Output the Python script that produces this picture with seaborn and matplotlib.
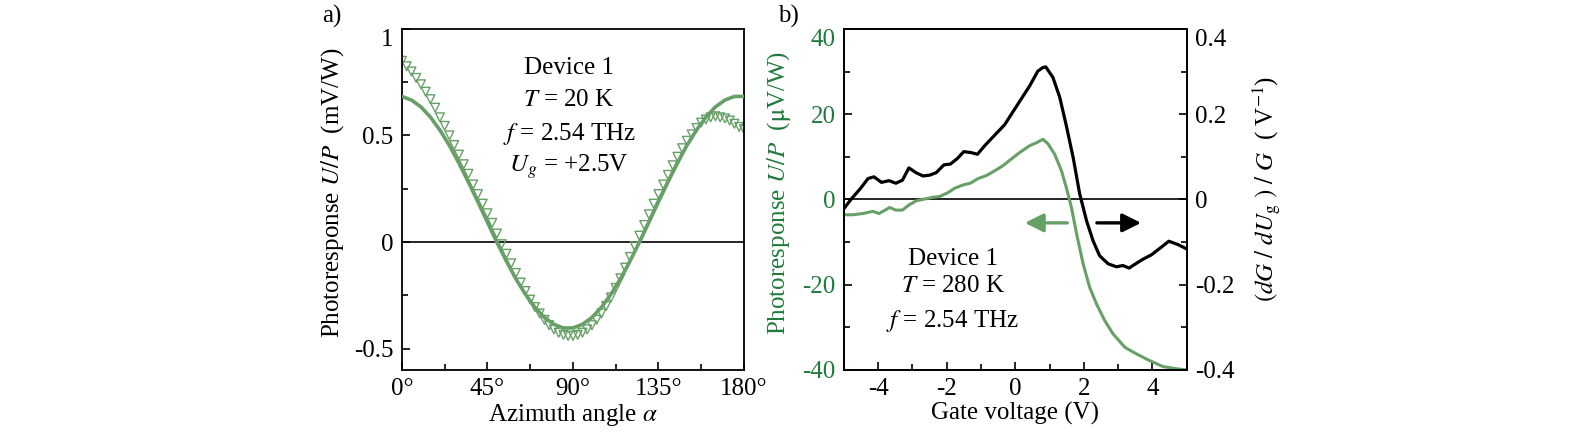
import numpy as np
import pandas as pd
import seaborn as sns
import matplotlib.pyplot as plt
from matplotlib.ticker import MultipleLocator

# panel a: azimuth dependence (fit line + measured triangles)
fit_angle = [0, 5, 10, 15, 20, 25, 30, 35, 40, 45, 50, 55, 60, 65, 70, 75, 80, 85, 90,
             95, 100, 105, 110, 115, 120, 125, 130, 135, 140, 145, 150, 155, 160, 165, 170, 175, 180]
fit_resp = [0.683, 0.666, 0.634, 0.586, 0.525, 0.453, 0.370, 0.281, 0.188, 0.093, -0.001,
            -0.090, -0.173, -0.245, -0.306, -0.354, -0.386, -0.403, -0.403, -0.386, -0.354,
            -0.306, -0.245, -0.173, -0.090, -0.001, 0.093, 0.188, 0.281, 0.370, 0.453, 0.525,
            0.586, 0.634, 0.666, 0.683, 0.683]

meas_angle = [0, 2.5, 5, 7.5, 10, 12.5, 15, 17.5, 20, 22.5, 25, 27.5, 30, 32.5, 35, 37.5, 40,
              42.5, 45, 47.5, 50, 52.5, 55, 57.5, 60, 62.5, 65, 67.5, 70, 72.5, 75, 77.5, 80,
              82.5, 85, 87.5, 90, 92.5, 95, 97.5, 100, 102.5, 105, 107.5, 110, 112.5, 115,
              117.5, 120, 122.5, 125, 127.5, 130, 132.5, 135, 137.5, 140, 142.5, 145, 147.5,
              150, 152.5, 155, 157.5, 160, 162.5, 165, 167.5, 170, 172.5, 175, 177.5, 180]
meas_resp = [0.85, 0.825, 0.80, 0.77, 0.74, 0.705, 0.67, 0.63, 0.585, 0.545, 0.50, 0.455,
             0.41, 0.365, 0.32, 0.27, 0.225, 0.18, 0.135, 0.09, 0.04, -0.01, -0.055, -0.10,
             -0.145, -0.19, -0.23, -0.27, -0.305, -0.335, -0.365, -0.39, -0.41, -0.425,
             -0.435, -0.44, -0.44, -0.435, -0.425, -0.41, -0.39, -0.365, -0.335, -0.30,
             -0.26, -0.215, -0.17, -0.12, -0.07, -0.02, 0.03, 0.08, 0.13, 0.18, 0.225, 0.27,
             0.315, 0.36, 0.40, 0.44, 0.475, 0.505, 0.535, 0.56, 0.575, 0.585, 0.59, 0.585,
             0.58, 0.57, 0.555, 0.54, 0.53]

# panel b: gate voltage dependence
gate_black = [-5.0, -4.78, -4.53, -4.29, -4.12, -3.90, -3.68, -3.48, -3.29, -3.10, -2.90,
              -2.69, -2.49, -2.30, -2.08, -1.89, -1.70, -1.50, -1.30, -1.10, -0.89, -0.69,
              -0.50, -0.31, -0.11, 0.13, 0.42, 0.66, 0.80, 0.89, 1.10, 1.30, 1.49, 1.69,
              1.88, 2.08, 2.27, 2.46, 2.71, 2.95, 3.14, 3.32, 3.53, 3.73, 3.97, 4.26, 4.48,
              4.75, 5.0]
dg_over_g = [-0.022, 0.001, 0.024, 0.049, 0.053, 0.040, 0.044, 0.038, 0.045, 0.074, 0.063,
             0.055, 0.057, 0.063, 0.081, 0.083, 0.095, 0.112, 0.110, 0.106, 0.126, 0.143,
             0.159, 0.175, 0.200, 0.230, 0.266, 0.301, 0.309, 0.311, 0.286, 0.239, 0.173,
             0.098, 0.013, -0.050, -0.097, -0.132, -0.151, -0.158, -0.155, -0.161, -0.150,
             -0.140, -0.130, -0.112, -0.098, -0.106, -0.116]

gate_green = [-5.0, -4.73, -4.44, -4.15, -3.97, -3.66, -3.48, -3.29, -3.08, -2.88, -2.64,
              -2.40, -2.20, -1.96, -1.77, -1.52, -1.31, -1.08, -0.84, -0.60, -0.36, -0.11,
              0.13, 0.42, 0.62, 0.81, 0.96, 1.15, 1.35, 1.49, 1.64, 1.78, 1.98, 2.17, 2.37,
              2.61, 2.85, 3.20, 3.53, 3.92, 4.31, 4.70, 5.0]
photo_b = [-3.6, -3.6, -3.3, -2.8, -3.3, -1.9, -2.5, -2.5, -1.2, -0.3, 0.1, 0.5, 0.7, 1.6,
           2.6, 3.4, 3.8, 4.9, 5.6, 6.7, 7.9, 9.5, 11.0, 12.6, 13.3, 14.1, 13.0, 10.6, 6.7,
           2.8, -1.9, -7.7, -15.1, -20.6, -24.5, -28.4, -31.5, -34.7, -36.2, -37.8, -39.2,
           -39.7, -40.0]

line_green = '#67a067'
text_green = '#1f7a3c'

sns.set_theme(style='white')
plt.rcParams['font.family'] = ['Liberation Serif', 'DejaVu Serif']
plt.rcParams['mathtext.fontset'] = 'stix'
plt.rcParams['axes.unicode_minus'] = False
plt.rcParams['axes.edgecolor'] = 'black'
plt.rcParams['axes.linewidth'] = 1.3
plt.rcParams['text.color'] = 'black'
plt.rcParams['axes.labelcolor'] = 'black'

fs_tick = 18
fs_lab = 18
fs_txt = 18

fig = plt.figure(figsize=(15.95, 4.34), dpi=100)
ax_a = fig.add_axes([0.252, 0.1475, 0.2144, 0.786])
ax_b = fig.add_axes([0.529, 0.1475, 0.215, 0.786])


def style_ticks(ax, **kw):
    ax.tick_params(which='both', direction='in', colors='black', labelsize=fs_tick, pad=6, **kw)
    ax.tick_params(which='major', length=6, width=1.2)
    ax.tick_params(which='minor', length=4, width=1.2)


# ---- panel a
ax_a.axhline(0, color='black', lw=1.2, zorder=1)
sns.lineplot(x=fit_angle, y=fit_resp, ax=ax_a, color=line_green, lw=2.6, zorder=3)
sns.scatterplot(x=meas_angle, y=meas_resp, ax=ax_a, marker='v', s=40,
                facecolor='none', edgecolor=line_green, linewidth=1.0, zorder=2)
ax_a.set_xlim(0, 180)
ax_a.set_ylim(-0.6, 1.0)
ax_a.set_xticks([0, 45, 90, 135, 180])
ax_a.set_xticklabels(['0°', '45°', '90°', '135°', '180°'])
ax_a.xaxis.set_minor_locator(MultipleLocator(22.5))
ax_a.set_yticks([-0.5, 0, 0.5, 1])
ax_a.set_yticklabels(['-0.5', '0', '0.5', '1'])
ax_a.yaxis.set_minor_locator(MultipleLocator(0.25))
style_ticks(ax_a, bottom=True, left=True, top=False, right=False)
ax_a.get_yticklabels()[-1].set_va('top')
ax_a.set_xlabel(r'Azimuth angle $\alpha$', fontsize=fs_lab)
ax_a.set_ylabel(r'Photoresponse $U/P$  (mV/W)', fontsize=fs_lab)
ax_a.xaxis.set_label_coords(0.5, -0.095)
ax_a.yaxis.set_label_coords(-0.165, 0.52)

for txt, yv in [('Device 1', 0.818), (r'$T$ = 20 K', 0.668),
                (r'$f$ = 2.54 THz', 0.505), (r'$U_g$ = +2.5V', 0.355)]:
    ax_a.text(88, yv, txt, ha='center', va='center', fontsize=fs_txt)

# ---- panel b
ax_r = ax_b.twinx()
ax_b.axhline(0, color='black', lw=1.2, zorder=1)
sns.lineplot(x=gate_green, y=photo_b, ax=ax_b, color=line_green, lw=2.2, zorder=3)
sns.lineplot(x=gate_black, y=dg_over_g, ax=ax_r, color='black', lw=2.3)
ax_b.set_xlim(-5, 5)
ax_b.set_ylim(-40, 40)
ax_r.set_ylim(-0.4, 0.4)
ax_b.set_xticks([-4, -2, 0, 2, 4])
ax_b.xaxis.set_minor_locator(MultipleLocator(1))
ax_b.set_yticks([-40, -20, 0, 20, 40])
ax_b.yaxis.set_minor_locator(MultipleLocator(10))
ax_r.set_yticks([-0.4, -0.2, 0, 0.2, 0.4])
ax_r.set_yticklabels(['-0.4', '-0.2', '0', '0.2', '0.4'])
ax_r.yaxis.set_minor_locator(MultipleLocator(0.1))
style_ticks(ax_b, bottom=True, left=True, top=False, right=False)
style_ticks(ax_r, left=False, right=True, bottom=False, top=False)
ax_b.tick_params(axis='y', labelcolor=text_green)
ax_b.get_yticklabels()[-1].set_va('top')
ax_r.get_yticklabels()[-1].set_va('top')
for sp in ax_r.spines.values():
    sp.set_color('black')
    sp.set_linewidth(1.3)

ax_b.set_xlabel('Gate voltage (V)', fontsize=fs_lab)
ax_b.set_ylabel(r'Photoresponse $U/P$  ($\mathrm{\mu}$V/W)', fontsize=fs_lab, color=text_green)
ax_r.set_ylabel(r'$(dG\ /\ dU_{\mathrm{g}}\ )\ /\ G$  ( V$^{\mathrm{-1}}$)', fontsize=fs_lab)
ax_b.xaxis.set_label_coords(0.5, -0.095)
ax_b.yaxis.set_label_coords(-0.149, 0.52)
ax_r.yaxis.set_label_coords(1.185, 0.53)

ax_b.annotate('', xy=(0.2, -5.5), xytext=(1.6, -5.5),
              arrowprops=dict(arrowstyle='-|>', color=line_green, lw=2.4, mutation_scale=28))
ax_b.annotate('', xy=(3.75, -5.5), xytext=(2.3, -5.5),
              arrowprops=dict(arrowstyle='-|>', color='black', lw=2.4, mutation_scale=28))

for txt, yv in [('Device 1', -13.9), (r'$T$ = 280 K', -20.2), (r'$f$ = 2.54 THz', -28.4)]:
    ax_b.text(-1.82, yv, txt, ha='center', va='center', fontsize=fs_txt)

fig.text(332 / 1595, 1 - 16 / 434, 'a)', ha='center', va='center', fontsize=fs_lab)
fig.text(788 / 1595, 1 - 16 / 434, 'b)', ha='center', va='center', fontsize=fs_lab)

fig.savefig('out.png', dpi=100)
